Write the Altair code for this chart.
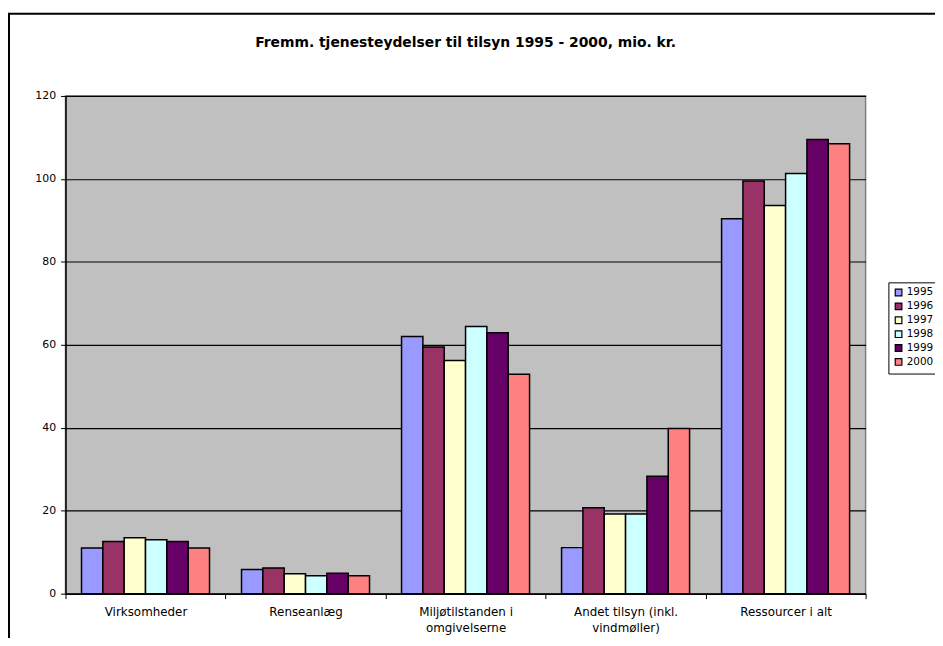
import altair as alt
import pandas as pd

categories = [
    "Virksomheder",
    "Renseanlæg",
    "Miljøtilstanden i|omgivelserne",
    "Andet tilsyn (inkl.|vindmøller)",
    "Ressourcer  i  alt",
]
years = ["1995", "1996", "1997", "1998", "1999", "2000"]
v1995 = [11.0, 5.8, 62.0, 11.1, 90.4]
v1996 = [12.6, 6.2, 59.5, 20.7, 99.5]
v1997 = [13.5, 4.8, 56.2, 19.2, 93.6]
v1998 = [13.0, 4.3, 64.4, 19.2, 101.3]
v1999 = [12.6, 4.9, 62.9, 28.3, 109.5]
v2000 = [11.0, 4.3, 52.9, 39.8, 108.5]
colors = ["#9999FF", "#993366", "#FFFFCC", "#CCFFFF", "#660066", "#FF8080"]
title_text = "Fremm. tjenesteydelser til tilsyn 1995 - 2000, mio. kr."

series = [v1995, v1996, v1997, v1998, v1999, v2000]
rows = []
for y, vals in zip(years, series):
    for c, v in zip(categories, vals):
        rows.append({"cat": c, "year": y, "value": v})
df = pd.DataFrame(rows)

W, H = 807, 502

bars = alt.Chart(df).mark_bar(stroke="black", strokeWidth=1.5).encode(
    x=alt.X(
        "cat:N",
        sort=categories,
        title=None,
        scale=alt.Scale(paddingInner=0, paddingOuter=0),
        axis=alt.Axis(
            labelExpr="split(datum.label, '|')",
            labelAngle=0,
            tickBand="extent",
            domainColor="black",
            domainWidth=1.5,
            tickColor="black",
            tickSize=5,
            labelFont="DejaVu Sans",
            labelFontSize=12,
            labelColor="black",
            labelPadding=8,
            labelLineHeight=16,
        ),
    ),
    xOffset=alt.XOffset(
        "year:N", sort=years, scale=alt.Scale(paddingInner=0, paddingOuter=0.75)
    ),
    y=alt.Y(
        "value:Q",
        title=None,
        scale=alt.Scale(domain=[0, 120], nice=False),
        axis=alt.Axis(
            values=[0, 20, 40, 60, 80, 100, 120],
            grid=True,
            gridColor="black",
            gridOpacity=1,
            gridWidth=1.2,
            domainColor="black",
            domainWidth=1.5,
            tickColor="black",
            tickSize=5,
            labelFont="DejaVu Sans",
            labelFontSize=11,
            labelColor="black",
            labelPadding=5,
        ),
    ),
    color=alt.Color(
        "year:N",
        sort=years,
        scale=alt.Scale(domain=years, range=colors),
        legend=alt.Legend(
            title=None,
            orient="none",
            legendX=830,
            legendY=188,
            strokeColor="black",
            fillColor="white",
            padding=5,
            symbolType="square",
            symbolSize=45,
            symbolStrokeColor="black",
            symbolStrokeWidth=1.2,
            labelFont="DejaVu Sans",
            labelFontSize=10.5,
            labelOffset=3,
            labelColor="black",
            rowPadding=1,
        ),
    ),
)

frame = alt.Chart(pd.DataFrame({"a": [0]})).mark_rect(
    fillOpacity=0, stroke="black", strokeWidth=2
).encode(
    x=alt.value(-57), x2=alt.value(1000), y=alt.value(-83), y2=alt.value(700)
)

chart = (
    alt.layer(bars, frame)
    .properties(
        width=W,
        height=H,
        title=alt.TitleParams(
            title_text,
            font="DejaVu Sans",
            fontSize=14,
            fontWeight="bold",
            color="black",
            anchor="middle",
            frame="group",
            offset=-38,
        ),
        autosize=alt.AutoSizeParams(type="none"),
        padding={"left": 58, "top": 86, "right": 70, "bottom": 42},
        background="white",
    )
    .configure_view(fill="#C0C0C0", stroke="#808080", strokeWidth=1.5)
)

chart.save("out.html", embed_options={"renderer": "svg", "actions": False})
